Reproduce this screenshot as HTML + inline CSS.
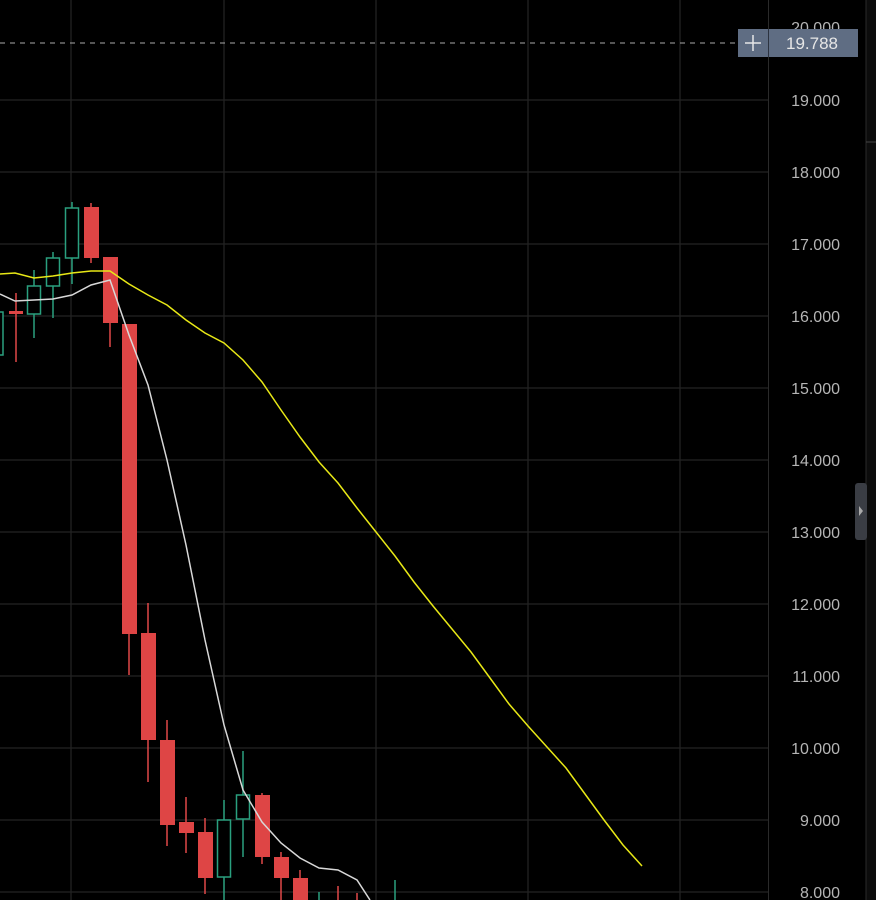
<!DOCTYPE html>
<html><head><style>
html,body{margin:0;padding:0;background:#000;width:876px;height:900px;overflow:hidden}
svg{display:block}
text{font-family:"Liberation Sans",sans-serif}
</style></head><body>
<svg width="876" height="900" viewBox="0 0 876 900">
<rect width="876" height="900" fill="#000"/>
<g stroke="#242424" stroke-width="1.2">
<line x1="0" y1="100" x2="768" y2="100"/><line x1="0" y1="172" x2="768" y2="172"/>
<line x1="0" y1="244" x2="768" y2="244"/><line x1="0" y1="316" x2="768" y2="316"/>
<line x1="0" y1="388" x2="768" y2="388"/><line x1="0" y1="460" x2="768" y2="460"/>
<line x1="0" y1="532" x2="768" y2="532"/><line x1="0" y1="604" x2="768" y2="604"/>
<line x1="0" y1="676" x2="768" y2="676"/><line x1="0" y1="748" x2="768" y2="748"/>
<line x1="0" y1="820" x2="768" y2="820"/><line x1="0" y1="892" x2="768" y2="892"/>
<line x1="71" y1="0" x2="71" y2="900"/><line x1="224" y1="0" x2="224" y2="900"/>
<line x1="376" y1="0" x2="376" y2="900"/><line x1="528" y1="0" x2="528" y2="900"/>
<line x1="680" y1="0" x2="680" y2="900"/>
</g>
<line x1="768.5" y1="0" x2="768.5" y2="900" stroke="#2a2a2a"/>
<rect x="866" y="0" width="10" height="900" fill="#0c0c0c"/>
<line x1="866" y1="0" x2="866" y2="900" stroke="#2a2a2a"/>
<rect x="855" y="483" width="12" height="57" rx="3" fill="#3a3d44"/>
<path d="M859 506 L863 511 L859 516Z" fill="#aaa"/>
<line x1="866" y1="142" x2="876" y2="142" stroke="#444"/>
<g fill="#b5b5b5" font-size="16" text-anchor="end">
<text x="840" y="33">20.000</text>
<text x="840" y="106">19.000</text><text x="840" y="178">18.000</text>
<text x="840" y="250">17.000</text><text x="840" y="322">16.000</text>
<text x="840" y="394">15.000</text><text x="840" y="466">14.000</text>
<text x="840" y="538">13.000</text><text x="840" y="610">12.000</text>
<text x="840" y="682">11.000</text><text x="840" y="754">10.000</text>
<text x="840" y="826">9.000</text><text x="840" y="898">8.000</text>
</g>
<line x1="0" y1="43" x2="738" y2="43" stroke="#aaa" stroke-dasharray="5,5"/>
<rect x="738" y="29" width="120" height="28" fill="#5f6d83"/>
<line x1="768.5" y1="29" x2="768.5" y2="57" stroke="#2c3340"/>
<g stroke="#e6e6e6" stroke-width="1.5"><line x1="745" y1="43" x2="761" y2="43"/><line x1="753" y1="35" x2="753" y2="51"/></g>
<text x="786" y="49" fill="#e6e6e6" font-size="17">19.788</text>
<!-- candles -->
<g stroke="#e04848" stroke-width="1.5">
<line x1="16" y1="293" x2="16" y2="362"/><line x1="91" y1="203" x2="91" y2="263"/>
<line x1="110" y1="257" x2="110" y2="347"/><line x1="129" y1="324" x2="129" y2="675"/>
<line x1="148" y1="603" x2="148" y2="782"/><line x1="167" y1="720" x2="167" y2="846"/>
<line x1="186" y1="797" x2="186" y2="853"/><line x1="205" y1="818" x2="205" y2="894"/>
<line x1="262" y1="793" x2="262" y2="864"/><line x1="281" y1="852" x2="281" y2="900"/>
<line x1="300" y1="870" x2="300" y2="900"/><line x1="338" y1="886" x2="338" y2="900"/>
<line x1="357" y1="893" x2="357" y2="900"/>
</g>
<g fill="#de4545">
<rect x="9" y="311" width="14" height="3"/><rect x="84" y="207" width="15" height="51"/>
<rect x="103" y="257" width="15" height="66"/><rect x="122" y="324" width="15" height="310"/>
<rect x="141" y="633" width="15" height="107"/><rect x="160" y="740" width="15" height="85"/>
<rect x="179" y="822" width="15" height="11"/><rect x="198" y="832" width="15" height="46"/>
<rect x="255" y="795" width="15" height="62"/><rect x="274" y="857" width="15" height="21"/>
<rect x="293" y="878" width="15" height="22"/>
</g>
<g stroke="#2aa07f" stroke-width="1.5" fill="none">
<line x1="34" y1="270" x2="34" y2="338"/><line x1="53" y1="252" x2="53" y2="318"/>
<line x1="72" y1="202" x2="72" y2="284"/><line x1="224" y1="800" x2="224" y2="900"/>
<line x1="243" y1="751" x2="243" y2="857"/><line x1="395" y1="880" x2="395" y2="900"/>
<line x1="319" y1="892" x2="319" y2="900"/>
<rect x="-10" y="312" width="13" height="43" fill="#000"/>
<rect x="27.5" y="286" width="13" height="28" fill="#000"/>
<rect x="46.5" y="258" width="13" height="28" fill="#000"/>
<rect x="65.5" y="208" width="13" height="50" fill="#000"/>
<rect x="217.5" y="820" width="13" height="57" fill="#000"/>
<rect x="236.5" y="795" width="13" height="24" fill="#000"/>
</g>
<polyline fill="none" stroke="#e8e816" stroke-width="1.5" points="0,274 15,273 34,278 53,276 72,273 91,271 110,271 129,284 148,295 167,305 186,320 205,333 224,343 243,360 262,382 281,410 300,437 319,462 338,483 357,508 376,532 395,556 414,582 433,606 452,629 471,652 490,678 509,704 528,726 547,747 566,768 585,794 604,820 623,845 642,866"/>
<polyline fill="none" stroke="#d8d8d8" stroke-width="1.5" points="0,294 15,301 34,300 53,299 72,295 91,285 110,280 129,335 148,385 167,460 186,545 205,640 224,725 243,790 262,822 281,843 300,858 319,868 338,870 357,880 370,900"/>
</svg>
</body></html>
